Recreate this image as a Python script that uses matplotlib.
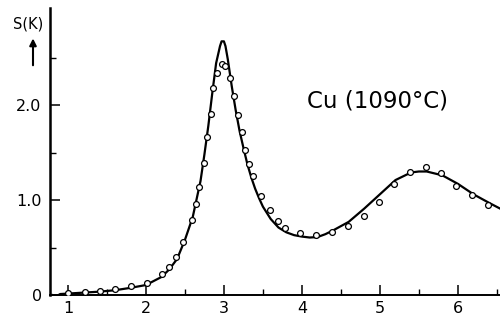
import matplotlib
matplotlib.use("Agg")
import matplotlib.pyplot as plt
from matplotlib.ticker import MultipleLocator, FixedLocator

# Measured data points (circles)
k_pts = [1.00, 1.22, 1.41, 1.60, 1.81, 2.01, 2.21, 2.30, 2.39, 2.47, 2.59, 2.64,
         2.68, 2.74, 2.78, 2.83, 2.86, 2.91, 2.97, 3.02, 3.08, 3.13, 3.18, 3.23,
         3.27, 3.32, 3.37, 3.48, 3.59, 3.69, 3.78, 3.98, 4.18, 4.39, 4.59, 4.79,
         4.99, 5.18, 5.38, 5.59, 5.78, 5.97, 6.18, 6.38]
s_pts = [0.02, 0.03, 0.045, 0.06, 0.09, 0.13, 0.22, 0.29, 0.40, 0.56, 0.79, 0.96,
         1.14, 1.39, 1.66, 1.91, 2.18, 2.34, 2.43, 2.41, 2.28, 2.09, 1.90, 1.72,
         1.53, 1.38, 1.25, 1.04, 0.89, 0.78, 0.71, 0.65, 0.63, 0.66, 0.73, 0.83,
         0.98, 1.17, 1.29, 1.35, 1.28, 1.15, 1.05, 0.95]

# Theoretical curve (solid line)
k_line = [0.80, 0.85, 0.90, 1.00, 1.20, 1.40, 1.60, 1.80, 2.00, 2.20, 2.30, 2.40,
          2.50, 2.60, 2.70, 2.75, 2.80, 2.85, 2.90, 2.95, 2.97, 3.00, 3.02, 3.05,
          3.10, 3.15, 3.20, 3.25, 3.30, 3.35, 3.40, 3.45, 3.50, 3.60, 3.70, 3.80,
          3.90, 4.00, 4.10, 4.20, 4.30, 4.40, 4.60, 4.80, 5.00, 5.20, 5.40, 5.50,
          5.60, 5.80, 6.00, 6.20, 6.40, 6.54]
s_line = [0.00, -0.015, 0.01, 0.015, 0.025, 0.035, 0.05, 0.075, 0.105, 0.19, 0.27, 0.38,
          0.58, 0.82, 1.20, 1.48, 1.78, 2.12, 2.44, 2.62, 2.67, 2.67, 2.62, 2.48,
          2.20, 1.95, 1.73, 1.55, 1.38, 1.24, 1.12, 1.02, 0.93, 0.80, 0.71, 0.66,
          0.63, 0.615, 0.605, 0.61, 0.64, 0.68, 0.77, 0.91, 1.06, 1.21, 1.29, 1.30,
          1.30, 1.26, 1.17, 1.06, 0.97, 0.91]

y_major = [0, 1.0, 2.0]
y_labels = ["0", "1.0", "2.0"]
x_major = [1, 2, 3, 4, 5, 6]

fig = plt.figure(figsize=(5.0, 3.24), dpi=100)
ax = fig.add_axes([0.10, 0.0895, 0.90, 0.8855])

ax.plot(k_line, s_line, color="black", lw=1.6, zorder=3)
ax.plot(k_pts, s_pts, linestyle="none", marker="o", markersize=4.2,
        markerfacecolor="white", markeredgecolor="black", markeredgewidth=0.9, zorder=4)

ax.set_xlim(0.77, 6.54)
ax.set_ylim(0, 3.02)

for s in ["top", "right"]:
    ax.spines[s].set_visible(False)
ax.spines["left"].set_linewidth(1.8)
ax.spines["bottom"].set_linewidth(1.4)

ax.xaxis.set_major_locator(FixedLocator(x_major))
ax.xaxis.set_minor_locator(MultipleLocator(0.5))
ax.yaxis.set_major_locator(FixedLocator(y_major))
ax.set_yticklabels(y_labels)
ax.yaxis.set_minor_locator(FixedLocator([0.5, 1.5, 2.5]))

ax.tick_params(axis="both", which="major", direction="in", length=7, width=1.1,
               labelsize=11.5, pad=4)
ax.tick_params(axis="both", which="minor", direction="in", length=4, width=1.0)
ax.tick_params(axis="y", which="major", pad=6)

ax.text(4.97, 2.04, "Cu (1090°C)", fontsize=16.5, ha="center", va="center")

fig.text(0.057, 0.925, "S(K)", fontsize=10.5, ha="center", va="center")
ax.annotate("", xy=(0.066, 0.89), xytext=(0.066, 0.79), xycoords="figure fraction",
            textcoords="figure fraction",
            arrowprops=dict(arrowstyle="-|>", color="black", lw=1.5, mutation_scale=10))

fig.savefig("out.png", dpi=100)
